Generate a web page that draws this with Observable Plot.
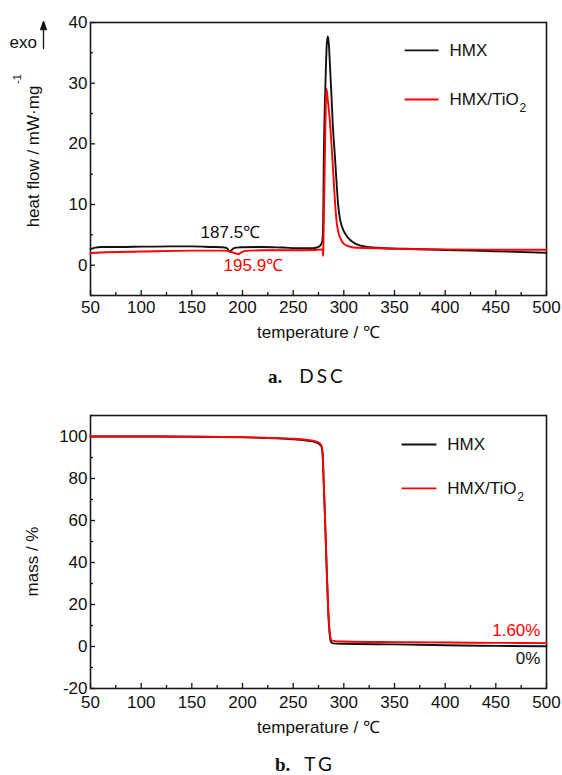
<!DOCTYPE html>
<html><head><meta charset="utf-8">
<script src="https://cdn.jsdelivr.net/npm/d3@7"></script>
<script src="https://cdn.jsdelivr.net/npm/@observablehq/plot@0.6"></script>
<style>
body{margin:0;background:#fff;}
#wrap{position:relative;width:562px;height:775px;background:#fff;overflow:hidden;}
#p1,#p2{position:absolute;left:0;}
#p1{top:0}
#p2{top:390px}
.cap{position:absolute;white-space:pre;color:#111;line-height:1;}
.cap b{font-family:"Liberation Serif",serif;font-weight:bold;font-size:19px;}
.cap span{font-family:Lato,"Open Sans",sans-serif;font-size:19px;letter-spacing:3px;}
</style></head><body>
<div id="wrap">
<div id="p1"></div>
<div class="cap" style="left:268px;top:366px"><b>a.</b><span style="margin-left:17px">DSC</span></div>
<div id="p2"></div>
<div class="cap" style="left:275px;top:754px"><b>b.</b><span style="margin-left:14px">TG</span></div>
</div>
<script>
// ---------- data ----------
const seriesNames = ["HMX", "HMX/TiO"];
const seriesColors = ["#111111", "#ff0000"];

const xTicks = [50, 100, 150, 200, 250, 300, 350, 400, 450, 500];
const xMinorTicks = [75, 125, 175, 225, 275, 325, 375, 425, 475];
const dscYTicks = [0, 10, 20, 30, 40];
const dscYMinor = [-5, 5, 15, 25, 35];
const tgYTicks = [-20, 0, 20, 40, 60, 80, 100];
const tgYMinor = [-10, 10, 30, 50, 70, 90, 110];

// DSC, HMX
const dscHmxT = [50, 55, 60, 80, 100, 130, 150, 170, 180, 184, 186, 187.5, 189, 191, 194, 200, 220, 240, 257, 270, 275, 277, 278.6, 279.3, 279.8, 280.3, 281.2, 282.2, 283.2, 284.2, 285.2, 286.3, 287.5, 289, 291, 292.7, 294.3, 296, 298.3, 302, 306.6, 312, 323, 340, 360, 400, 450, 500];
const dscHmxV = [2.65, 2.9, 3.0, 3.0, 3.05, 3.1, 3.1, 3.0, 2.95, 2.85, 2.5, 2.15, 2.45, 2.75, 2.9, 2.95, 3.0, 2.9, 2.8, 2.8, 3.0, 3.3, 3.8, 5.0, 10, 18.4, 26, 32, 36.5, 37.7, 36.5, 33, 29, 23.5, 18.4, 14, 10.1, 7.8, 6.3, 5.0, 4.1, 3.5, 3.0, 2.8, 2.7, 2.5, 2.3, 2.05];
// DSC, HMX/TiO2
const dscTioT = [50, 60, 100, 150, 180, 188, 192, 195.9, 199, 203, 220, 250, 270, 278.5, 279.2, 279.5, 279.8, 280.3, 281, 281.7, 282.3, 282.9, 284, 286.2, 288.4, 290, 291.4, 293, 295, 297.5, 300, 305, 310, 330, 350, 400, 450, 500];
const dscTioV = [2.0, 2.1, 2.25, 2.4, 2.4, 2.25, 2.0, 1.85, 2.1, 2.35, 2.45, 2.45, 2.5, 2.6, 2.6, 1.5, 3, 8, 15, 22, 27, 29.1, 27.5, 23.8, 18.4, 14, 10.1, 7, 5.2, 4.1, 3.5, 3.1, 2.9, 2.8, 2.7, 2.6, 2.55, 2.55];

// TG, HMX
const tgHmxT = [50, 100, 150, 200, 230, 250, 265, 272, 276, 278, 279, 280, 281.5, 283, 284.5, 286, 287.3, 289, 300, 350, 400, 450, 500];
const tgHmxV = [100, 100, 99.9, 99.6, 99.2, 98.7, 98.0, 97.3, 96.3, 95.0, 92, 80, 60, 38, 18, 6, 2.2, 1.5, 1.3, 1.0, 0.6, 0.3, 0.1];
// TG, HMX/TiO2
const tgTioT = [50, 100, 150, 200, 230, 250, 265, 272, 276, 278, 279, 280, 281.5, 283, 284.5, 286, 287.5, 289, 300, 350, 400, 450, 500];
const tgTioV = [100, 100, 99.9, 99.7, 99.3, 98.9, 98.3, 97.7, 96.8, 95.6, 92.5, 80.5, 60.5, 38.5, 18.5, 7, 3.2, 2.7, 2.4, 2.1, 1.9, 1.75, 1.6];

// annotation texts (and which series each belongs to)
const dscNotes = ["187.5℃", "195.9℃"];
const dscNoteSeries = [0, 1];
const tgNotes = ["1.60%", "0%"];
const tgNoteSeries = [1, 0];

// ---------- layout (positions in data units) ----------
const dscLegendPos = {x1: 360, x2: 393.4, tx: 404.3, y: [35.4, 27.3]};
const tgLegendPos = {x1: 357, x2: 391.4, tx: 402, y: [96.2, 75.3]};
const dscNotePos = [{x: 158.6, y: 5.4}, {x: 181.3, y: -0.05}];
const tgNotePos = [{x: 494, y: 7.6}, {x: 494, y: -5.7}];

const rows = (T, V, name) => T.map((t, i) => ({t, v: V[i], name}));
const dscData = [rows(dscHmxT, dscHmxV, seriesNames[0]), rows(dscTioT, dscTioV, seriesNames[1])];
const tgData = [rows(tgHmxT, tgHmxV, seriesNames[0]), rows(tgTioT, tgTioV, seriesNames[1])];

const FONT = "'Liberation Sans', Arial, Helvetica, sans-serif";
const INK = "#111111";

function axes(yMajor, yMinor, xPad) {
  return [
    Plot.axisX({ticks: xTicks, tickSize: 0, tickPadding: xPad, label: null, tickFormat: d => String(d)}),
    Plot.axisX({ticks: xTicks, tickSize: 5, dy: -5, label: null, tickFormat: () => "", strokeWidth: 1.3}),
    Plot.axisX({ticks: xMinorTicks, tickSize: 3, dy: -3, label: null, tickFormat: () => "", strokeWidth: 1.3}),
    Plot.axisY({ticks: yMajor, tickSize: 0, tickPadding: 3, label: null, tickFormat: d => String(d)}),
    Plot.axisY({ticks: yMajor, tickSize: 5, dx: 5, label: null, tickFormat: () => "", strokeWidth: 1.3}),
    Plot.axisY({ticks: yMinor, tickSize: 3, dx: 3, label: null, tickFormat: () => "", strokeWidth: 1.3}),
    Plot.frame({stroke: "#1a1a1a", strokeWidth: 1.6})
  ];
}

function legend(pos) {
  const L = seriesNames.map((n, i) => ({n, c: seriesColors[i], y: pos.y[i]}));
  return [
    Plot.link(L, {x1: () => pos.x1, x2: () => pos.x2, y1: "y", y2: "y", stroke: "c", strokeWidth: 1.9}),
    Plot.text(L, {x: () => pos.tx, y: "y", text: "n", textAnchor: "start", fill: INK}),
    Plot.text(L.slice(1), {x: () => pos.tx, y: "y", text: () => "2", textAnchor: "start", dx: 70, dy: 9, fontSize: 12, fill: INK})
  ];
}

const lineMarks = data => data.map((d, i) => Plot.line(d, {x: "t", y: "v", stroke: seriesColors[i], strokeWidth: 1.9, curve: "monotone-x"}));

function notes(texts, series, pos, anchor) {
  return Plot.text(texts, {
    x: (d, i) => pos[i].x, y: (d, i) => pos[i].y, text: d => d,
    textAnchor: anchor, fill: (d, i) => seriesColors[series[i]]
  });
}

const arrowUp = {draw(ctx, l) {
  ctx.moveTo(0, 0); ctx.lineTo(0, -l + 7);
  ctx.moveTo(-2.8, -l + 8); ctx.lineTo(0, -l); ctx.lineTo(2.8, -l + 8); ctx.closePath();
}};

const style = {fontFamily: FONT, fontSize: "17px", color: INK, background: "white", overflow: "visible"};

const p1 = Plot.plot({
  width: 562, height: 345, marginTop: 22, marginBottom: 50, marginLeft: 90, marginRight: 16,
  style,
  x: {domain: [50, 500]},
  y: {domain: [-5, 40]},
  marks: [
    ...axes(dscYTicks, dscYMinor, 5),
    ...lineMarks(dscData),
    ...legend(dscLegendPos),
    notes(dscNotes, dscNoteSeries, dscNotePos, "start"),
    Plot.text(["temperature / ℃"], {frameAnchor: "bottom", dy: 42, lineAnchor: "bottom", fill: INK}),
    Plot.text(["heat flow / mW·mg"], {frameAnchor: "left", textAnchor: "middle", dx: -57, dy: -2.5, rotate: -90, fill: INK}),
    Plot.text(["-1"], {frameAnchor: "left", textAnchor: "middle", dx: -73, dy: -80, rotate: -90, fontSize: 11, fill: INK}),
    Plot.text(["exo"], {frameAnchor: "top-left", dx: -81, dy: 25, lineAnchor: "bottom", textAnchor: "start", fill: INK}),
    Plot.vector([0], {frameAnchor: "top-left", dx: -47, dy: 26, length: 27, rotate: 0, anchor: "start", shape: arrowUp, stroke: INK, fill: INK, strokeWidth: 1.3})
  ]
});
document.getElementById("p1").appendChild(p1);

const p2 = Plot.plot({
  width: 562, height: 345, marginTop: 25, marginBottom: 47, marginLeft: 90, marginRight: 16,
  style,
  x: {domain: [50, 500]},
  y: {domain: [-20, 110]},
  marks: [
    ...axes(tgYTicks, tgYMinor, 7),
    ...lineMarks(tgData),
    ...legend(tgLegendPos),
    notes(tgNotes, tgNoteSeries, tgNotePos, "end"),
    Plot.text(["temperature / ℃"], {frameAnchor: "bottom", dy: 44.5, lineAnchor: "bottom", fill: INK}),
    Plot.text(["mass / %"], {frameAnchor: "left", textAnchor: "middle", dx: -58, dy: 9.5, rotate: -90, fill: INK})
  ]
});
document.getElementById("p2").appendChild(p2);
</script>
</body></html>
